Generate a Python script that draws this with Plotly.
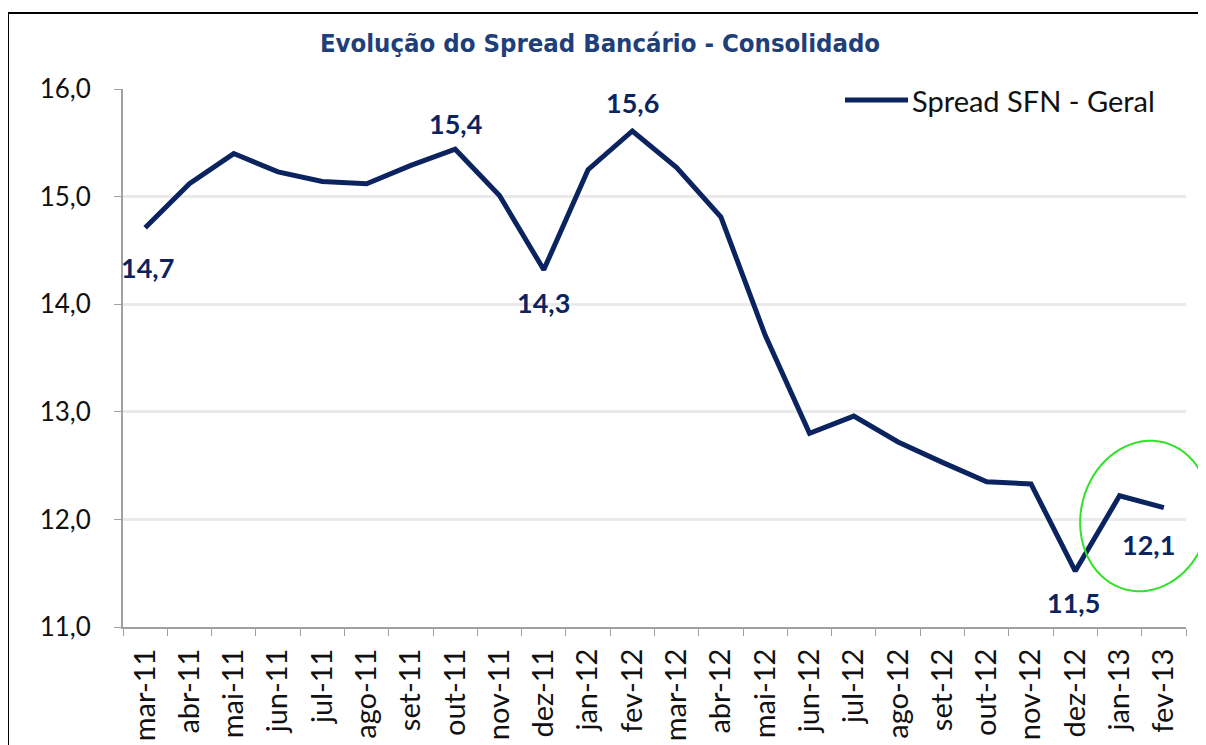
import math
import plotly.graph_objects as go

months = ["mar-11", "abr-11", "mai-11", "jun-11", "jul-11", "ago-11", "set-11", "out-11",
          "nov-11", "dez-11", "jan-12", "fev-12", "mar-12", "abr-12", "mai-12", "jun-12",
          "jul-12", "ago-12", "set-12", "out-12", "nov-12", "dez-12", "jan-13", "fev-13"]
spread = [14.71, 15.12, 15.40, 15.23, 15.14, 15.12, 15.29, 15.44,
          15.01, 14.32, 15.25, 15.61, 15.27, 14.81, 13.71, 12.80,
          12.96, 12.72, 12.53, 12.35, 12.33, 11.52, 12.22, 12.11]
series_name = "Spread SFN - Geral"
title = "Evolução do Spread Bancário - Consolidado"

# labelled points: (index, x shift px, y shift px)
label_idx = [0, 7, 9, 11, 21, 23]
label_xshift = [2, 0, 0, 0, -2, -15]
label_yshift = [-40, 26, -33, 28, -31, -37]

NAVY = "#0B2460"
OFF = 8  # page body margin
W, H = 1206 - OFF, 745 - OFF
L, R, T, B = 115, 20, 81, 118
pw, ph = W - L - R, H - T - B

def px_x(p):
    return (p - OFF - L) / pw

def px_y(p):
    return (H - B - (p - OFF)) / ph

fig = go.Figure()
fig.add_trace(go.Scatter(x=months, y=spread, mode="lines", name=series_name,
                         line=dict(color=NAVY, width=5), showlegend=False,
                         hoverinfo="x+y"))

for i, xs, ys in zip(label_idx, label_xshift, label_yshift):
    fig.add_annotation(x=months[i], y=spread[i], text=f"{spread[i]:.1f}".replace(".", ","),
                       showarrow=False, xshift=xs, yshift=ys,
                       font=dict(family="Lato, Open Sans, sans-serif", size=27, color=NAVY, weight="bold"))

# manual legend
fig.add_shape(type="line", xref="paper", yref="paper", x0=px_x(845), x1=px_x(908),
              y0=px_y(100), y1=px_y(100), line=dict(color=NAVY, width=5))
fig.add_annotation(xref="paper", yref="paper", x=px_x(910), y=px_y(100), text=series_name,
                   showarrow=False, xanchor="left", yanchor="middle",
                   font=dict(family="Lato, Open Sans, sans-serif", size=29, color="#111111"))

# green highlight ellipse (tilted), drawn in page pixel space
cx, cy, a, b, phi = 1145, 516, 64, 76, math.radians(15)
pts = []
for k in range(73):
    t = 2 * math.pi * k / 72
    u, v = a * math.cos(t), b * math.sin(t)
    X = cx + u * math.cos(phi) + v * math.sin(phi)
    Y = cy + u * math.sin(phi) - v * math.cos(phi)
    pts.append((px_x(X), px_y(Y)))
path = "M " + " L ".join(f"{x:.5f},{y:.5f}" for x, y in pts) + " Z"
fig.add_shape(type="path", xref="paper", yref="paper", path=path,
              line=dict(color="#33E02A", width=2), layer="above")

# outer frame
fig.add_shape(type="rect", xref="paper", yref="paper", x0=px_x(8), x1=px_x(1240),
              y0=px_y(800), y1=px_y(13), line=dict(color="black", width=2))

fig.update_layout(
    width=W, height=H,
    margin=dict(l=L, r=R, t=T, b=B),
    paper_bgcolor="white", plot_bgcolor="white",
    separators=",.",
    title=dict(text=title, x=(600 - OFF) / W, xanchor="center", y=1 - (43 - OFF) / H, yanchor="middle",
               font=dict(family="DejaVu Sans Condensed, Liberation Sans Narrow, sans-serif",
                         size=25.5, color="#1F3F7A", weight="bold")),
    xaxis=dict(type="category", tickangle=-90, tickson="boundaries", ticks="outside", ticklen=7,
               tickcolor="#A0A0A0", showline=True, linecolor="#A0A0A0", linewidth=2,
               showgrid=False, range=[-0.5, 23.5], ticklabelstandoff=8, automargin=False,
               tickfont=dict(family="Lato, Open Sans, sans-serif", size=29, color="#111111")),
    yaxis=dict(range=[11, 16], dtick=1, tickformat=".1f", ticks="outside", ticklen=7,
               tickcolor="#A0A0A0", showline=True, linecolor="#A0A0A0", linewidth=2,
               gridcolor="#EAEAEA", gridwidth=3, zeroline=False, ticklabelstandoff=18,
               automargin=False,
               tickfont=dict(family="Lato, Open Sans, sans-serif", size=26, color="#111111")),
)

fig.write_html("out.html")
